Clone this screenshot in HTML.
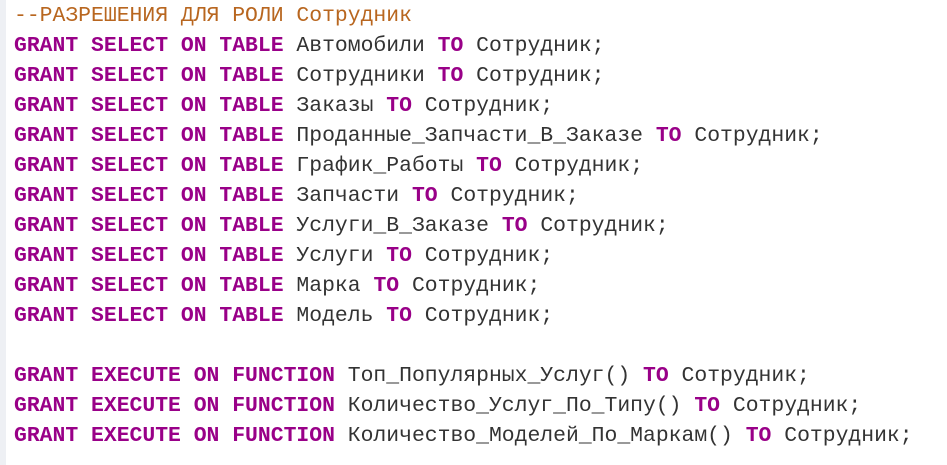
<!DOCTYPE html>
<html><head><meta charset="utf-8"><style>
html,body{margin:0;padding:0;background:#fff;width:947px;height:465px;overflow:hidden}
.strip{position:absolute;left:0;top:0;width:6px;height:465px;background:#eef0f4}
pre{position:absolute;left:14px;top:1px;margin:0;font-family:"Liberation Mono","DejaVu Sans Mono",monospace;font-size:21.4px;line-height:30px;color:#333}
.c{color:#b8661f}
.k{color:#990088;font-weight:bold}
</style></head><body><div class="strip"></div>
<pre><span class="c">--РАЗРЕШЕНИЯ ДЛЯ РОЛИ Сотрудник</span>
<span class="k">GRANT SELECT ON TABLE</span> Автомобили <span class="k">TO</span> Сотрудник;
<span class="k">GRANT SELECT ON TABLE</span> Сотрудники <span class="k">TO</span> Сотрудник;
<span class="k">GRANT SELECT ON TABLE</span> Заказы <span class="k">TO</span> Сотрудник;
<span class="k">GRANT SELECT ON TABLE</span> Проданные_Запчасти_В_Заказе <span class="k">TO</span> Сотрудник;
<span class="k">GRANT SELECT ON TABLE</span> График_Работы <span class="k">TO</span> Сотрудник;
<span class="k">GRANT SELECT ON TABLE</span> Запчасти <span class="k">TO</span> Сотрудник;
<span class="k">GRANT SELECT ON TABLE</span> Услуги_В_Заказе <span class="k">TO</span> Сотрудник;
<span class="k">GRANT SELECT ON TABLE</span> Услуги <span class="k">TO</span> Сотрудник;
<span class="k">GRANT SELECT ON TABLE</span> Марка <span class="k">TO</span> Сотрудник;
<span class="k">GRANT SELECT ON TABLE</span> Модель <span class="k">TO</span> Сотрудник;

<span class="k">GRANT EXECUTE ON FUNCTION</span> Топ_Популярных_Услуг() <span class="k">TO</span> Сотрудник;
<span class="k">GRANT EXECUTE ON FUNCTION</span> Количество_Услуг_По_Типу() <span class="k">TO</span> Сотрудник;
<span class="k">GRANT EXECUTE ON FUNCTION</span> Количество_Моделей_По_Маркам() <span class="k">TO</span> Сотрудник;</pre>
</body></html>
